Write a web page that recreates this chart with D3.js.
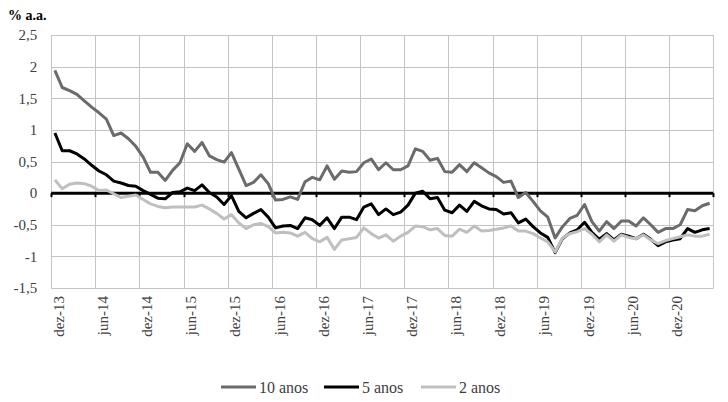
<!DOCTYPE html>
<html>
<head>
<meta charset="utf-8">
<script src="https://cdn.jsdelivr.net/npm/d3@7"></script>
<style>
  html, body { margin: 0; padding: 0; background: #fff; }
  svg { display: block; }
</style>
</head>
<body>
<svg id="chart" width="728" height="402"></svg>
<script>
// ---- data ----
const monthNames = ["jan","fev","mar","abr","mai","jun","jul","ago","set","out","nov","dez"];
const categories = [];
for (let i = 0; i < 90; i++) {
  const m = (11 + i) % 12;
  const yr = 13 + Math.floor((11 + i) / 12);
  categories.push(monthNames[m] + "-" + yr);
}
const tickLabels = ["dez-13","jun-14","dez-14","jun-15","dez-15","jun-16","dez-16","jun-17",
  "dez-17","jun-18","dez-18","jun-19","dez-19","jun-20","dez-20"];
const yTicks = [-1.5, -1, -0.5, 0, 0.5, 1, 1.5, 2, 2.5];
const seriesNames = ["10 anos", "5 anos", "2 anos"];

const anos10 = [1.94,1.67,1.62,1.56,1.46,1.36,1.27,1.17,0.91,0.95,
  0.86,0.74,0.57,0.33,0.33,0.20,0.36,0.48,0.78,0.66,
  0.80,0.59,0.53,0.49,0.64,0.38,0.12,0.17,0.29,0.15,
  -0.11,-0.10,-0.06,-0.10,0.18,0.25,0.21,0.43,0.22,0.35,
  0.33,0.34,0.48,0.54,0.37,0.48,0.37,0.37,0.43,0.70,
  0.66,0.52,0.55,0.34,0.33,0.45,0.34,0.48,0.40,0.32,
  0.26,0.17,0.19,-0.07,0.01,-0.13,-0.28,-0.38,-0.71,-0.53,
  -0.40,-0.35,-0.18,-0.45,-0.60,-0.45,-0.56,-0.44,-0.44,-0.52,
  -0.39,-0.50,-0.62,-0.56,-0.56,-0.50,-0.26,-0.28,-0.20,-0.16];
const anos5 = [0.95,0.67,0.67,0.62,0.54,0.44,0.35,0.29,0.19,0.16,
  0.12,0.11,0.04,-0.02,-0.08,-0.09,0.01,0.02,0.08,0.04,
  0.13,0.01,-0.06,-0.18,-0.04,-0.29,-0.39,-0.32,-0.26,-0.38,
  -0.55,-0.52,-0.51,-0.56,-0.39,-0.42,-0.51,-0.39,-0.56,-0.38,
  -0.38,-0.42,-0.22,-0.17,-0.34,-0.25,-0.34,-0.30,-0.19,0.00,
  0.03,-0.09,-0.07,-0.27,-0.31,-0.19,-0.29,-0.13,-0.20,-0.25,
  -0.26,-0.33,-0.31,-0.47,-0.41,-0.53,-0.63,-0.70,-0.94,-0.72,
  -0.63,-0.58,-0.46,-0.62,-0.73,-0.64,-0.74,-0.65,-0.68,-0.72,
  -0.65,-0.73,-0.83,-0.77,-0.74,-0.72,-0.56,-0.62,-0.58,-0.56];
const anos2 = [0.21,0.07,0.14,0.16,0.15,0.11,0.04,0.05,-0.01,-0.07,
  -0.05,-0.03,-0.10,-0.17,-0.21,-0.23,-0.22,-0.22,-0.22,-0.22,
  -0.19,-0.25,-0.32,-0.41,-0.34,-0.47,-0.56,-0.50,-0.48,-0.53,
  -0.63,-0.62,-0.63,-0.68,-0.62,-0.72,-0.77,-0.70,-0.89,-0.74,
  -0.72,-0.70,-0.55,-0.64,-0.71,-0.66,-0.76,-0.68,-0.62,-0.52,
  -0.53,-0.58,-0.56,-0.67,-0.68,-0.57,-0.62,-0.52,-0.60,-0.59,
  -0.57,-0.55,-0.52,-0.60,-0.60,-0.64,-0.71,-0.77,-0.93,-0.71,
  -0.64,-0.61,-0.56,-0.65,-0.77,-0.66,-0.76,-0.66,-0.70,-0.72,
  -0.66,-0.74,-0.80,-0.75,-0.72,-0.69,-0.66,-0.68,-0.68,-0.65];

const seriesValues = [anos10, anos5, anos2];
const seriesColors = ["#6b6b6b", "#000000", "#bfbfbf"];

(function () {
  const svg = d3.select("#chart");
  const pLeft = 51.2, pRight = 713.3, pTop = 35, pBottom = 288;
  const serif = "'Liberation Serif', 'Times New Roman', serif";

  const x = d3.scaleBand().domain(categories).range([pLeft, pRight]).padding(0);
  const y = d3.scaleLinear().domain([-1.5, 2.5]).range([pBottom, pTop]);
  const cx = d => x(d) + x.bandwidth() / 2;

  // gridlines
  const grid = svg.append("g");
  grid.selectAll("line.h").data(yTicks).join("line")
    .attr("x1", pLeft).attr("x2", pRight)
    .attr("y1", d => Math.round(y(d)) + 0.5).attr("y2", d => Math.round(y(d)) + 0.5)
    .attr("stroke", "#c4c4c4").attr("stroke-width", 1);
  const vIdx = d3.range(0, categories.length + 1, 6);
  const edgeX = i => i < categories.length ? x(categories[i]) : pRight;
  grid.selectAll("line.v").data(vIdx).join("line")
    .attr("x1", i => Math.round(edgeX(i)) + 0.5).attr("x2", i => Math.round(edgeX(i)) + 0.5)
    .attr("y1", pTop).attr("y2", pBottom + 0.5)
    .attr("stroke", "#c4c4c4").attr("stroke-width", 1);

  // y axis labels
  const yAxis = d3.axisLeft(y).tickValues(yTicks).tickSize(0).tickPadding(14)
    .tickFormat(d => String(d).replace(".", ","));
  svg.append("g").attr("transform", `translate(${pLeft},0)`).call(yAxis)
    .call(g => g.select(".domain").remove())
    .call(g => g.selectAll("text").attr("font-family", serif).attr("font-size", 15).attr("fill", "#404040"));

  // x axis labels (rotated)
  const xAxis = d3.axisBottom(x).tickValues(tickLabels).tickSize(0);
  svg.append("g").attr("transform", `translate(0,${pBottom})`).call(xAxis)
    .call(g => g.select(".domain").remove())
    .call(g => g.selectAll("text")
      .attr("font-family", serif).attr("font-size", 15).attr("fill", "#404040")
      .attr("text-anchor", "end")
      .attr("transform", "rotate(-90)")
      .attr("x", -8).attr("y", 0).attr("dy", "0.6em"));

  // zero axis line with ticks
  const y0 = y(0);
  svg.append("line").attr("x1", pLeft).attr("x2", pRight).attr("y1", y0).attr("y2", y0)
    .attr("stroke", "#000").attr("stroke-width", 3);
  svg.append("g").selectAll("line").data(vIdx).join("line")
    .attr("x1", i => Math.round(edgeX(i)) + 0.5).attr("x2", i => Math.round(edgeX(i)) + 0.5)
    .attr("y1", y0).attr("y2", y0 + 4)
    .attr("stroke", "#000").attr("stroke-width", 2);

  // series lines
  const line = d3.line().x((d, i) => cx(categories[i])).y(d => y(d));
  svg.append("g").selectAll("path").data(seriesValues).join("path")
    .attr("d", d => line(d))
    .attr("fill", "none")
    .attr("stroke", (d, i) => seriesColors[i])
    .attr("stroke-width", 3)
    .attr("stroke-linejoin", "round");

  // title
  svg.append("text").attr("x", 8).attr("y", 20)
    .attr("font-family", serif).attr("font-size", 14).attr("font-weight", "bold")
    .attr("fill", "#000").text("% a.a.");

  // legend
  const legendX = [221, 324, 421];
  const legend = svg.append("g");
  seriesNames.forEach((name, i) => {
    const gx = legendX[i];
    legend.append("line").attr("x1", gx).attr("x2", gx + 35).attr("y1", 387).attr("y2", 387)
      .attr("stroke", seriesColors[i]).attr("stroke-width", 3);
    legend.append("text").attr("x", gx + 38).attr("y", 387).attr("dy", "0.35em")
      .attr("font-family", serif).attr("font-size", 16).attr("fill", "#404040").text(name);
  });
})();
</script>
</body>
</html>
